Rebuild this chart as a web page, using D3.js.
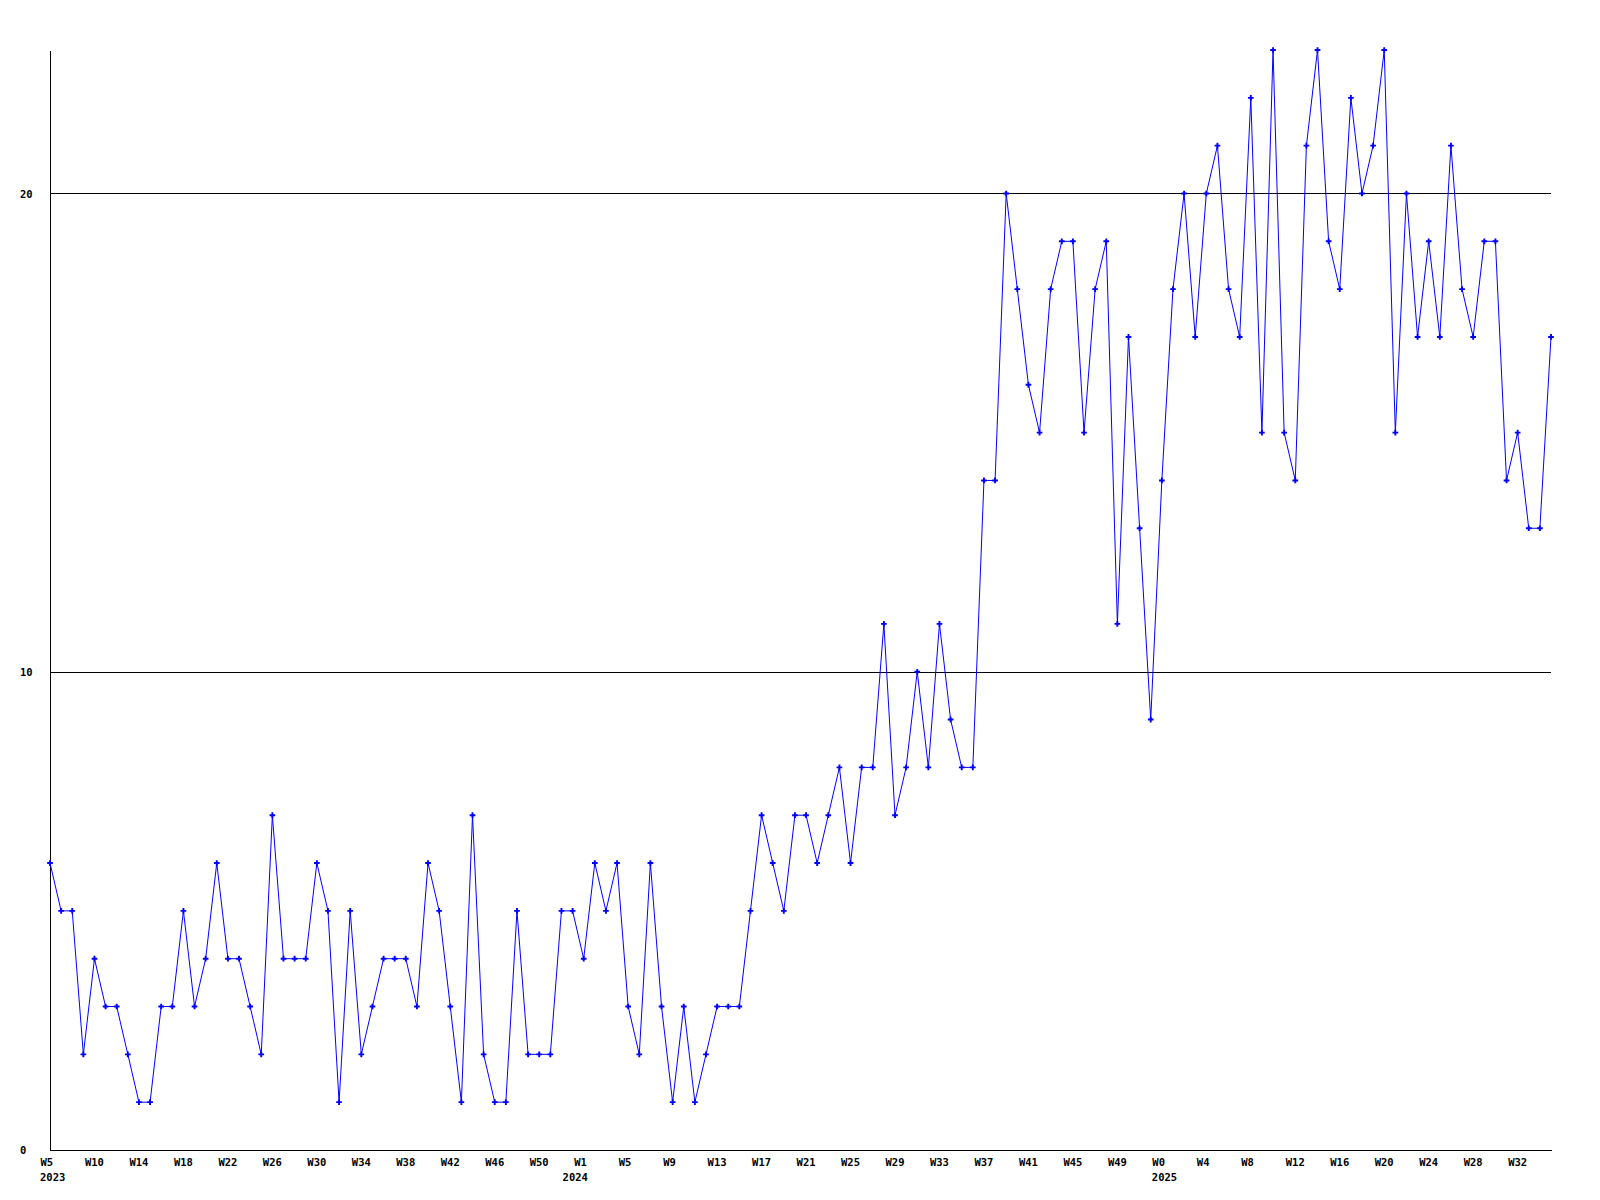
<!DOCTYPE html>
<html>
<head>
<meta charset="utf-8">
<script src="https://cdn.jsdelivr.net/npm/d3@7"></script>
<style>
  html, body { margin: 0; padding: 0; background: #ffffff; }
  svg { display: block; }
  text { font-family: "DejaVu Sans Mono", "Liberation Mono", monospace; font-weight: bold; font-size: 10.5px; fill: #000; }
</style>
</head>
<body>
<svg id="chart" width="1600" height="1200"></svg>
<script>
// Weekly values, one per week, 2023 W5 .. 2025 W35
const values = [
  6, 5, 5, 2, 4, 3, 3, 2, 1, 1,
  3, 3, 5, 3, 4, 6, 4, 4, 3, 2,
  7, 4, 4, 4, 6, 5, 1, 5, 2, 3,
  4, 4, 4, 3, 6, 5, 3, 1, 7, 2,
  1, 1, 5, 2, 2, 2, 5, 5, 4, 6,
  5, 6, 3, 2, 6, 3, 1, 3, 1, 2,
  3, 3, 3, 5, 7, 6, 5, 7, 7, 6,
  7, 8, 6, 8, 8, 11, 7, 8, 10, 8,
  11, 9, 8, 8, 14, 14, 20, 18, 16, 15,
  18, 19, 19, 15, 18, 19, 11, 17, 13, 9,
  14, 18, 20, 17, 20, 21, 18, 17, 22, 15,
  23, 15, 14, 21, 23, 19, 18, 22, 20, 21,
  23, 15, 20, 17, 19, 17, 21, 18, 17, 19,
  19, 14, 15, 13, 13, 17
];

// Week tick labels (point index -> label)
const weekTickIndex = [0, 4, 8, 12, 16, 20, 24, 28, 32, 36, 40, 44,
  48, 52, 56, 60, 64, 68, 72, 76, 80, 84, 88, 92, 96,
  100, 104, 108, 112, 116, 120, 124, 128, 132];
const weekTickLabels = ["W5", "W10", "W14", "W18", "W22", "W26", "W30", "W34", "W38", "W42", "W46", "W50",
  "W1", "W5", "W9", "W13", "W17", "W21", "W25", "W29", "W33", "W37", "W41", "W45", "W49",
  "W0", "W4", "W8", "W12", "W16", "W20", "W24", "W28", "W32"];

// Year labels (point index -> label)
const yearIndex = [0, 47, 100];
const yearLabels = ["2023", "2024", "2025"];

// Y ticks / gridlines
const yTickValues = [0, 10, 20];
const yGridValues = [10, 20];
const yMax = 23;

const svg = d3.select("#chart");
const mLeft = 50, mRight = 1551, mTop = 50, mBottom = 1150;

const x = d3.scaleLinear().domain([0, values.length - 1]).range([mLeft, mRight]);
const y = d3.scaleLinear().domain([0, yMax]).range([mBottom, mTop]);

// Gridlines
svg.append("g")
  .selectAll("line")
  .data(yGridValues)
  .join("line")
  .attr("x1", mLeft).attr("x2", mRight)
  .attr("y1", d => Math.round(y(d)) + 0.5).attr("y2", d => Math.round(y(d)) + 0.5)
  .attr("stroke", "#000").attr("stroke-width", 1)
  .attr("shape-rendering", "crispEdges");

// Y axis
const yAxis = svg.append("g")
  .attr("transform", `translate(${mLeft},0)`)
  .call(d3.axisLeft(y).tickValues(yTickValues).tickSize(0).tickSizeOuter(0).tickFormat(d3.format("d")));
yAxis.select(".domain").attr("stroke", "#000").attr("shape-rendering", "crispEdges");
yAxis.selectAll("text")
  .attr("text-anchor", "start")
  .attr("x", 20 - mLeft)
  .attr("dy", "0.35em")
  .style("font-family", '"DejaVu Sans Mono", monospace')
  .style("font-weight", "bold")
  .style("font-size", "10.5px");

// X axis
const xAxis = svg.append("g")
  .attr("transform", `translate(0,${mBottom})`)
  .call(d3.axisBottom(x)
    .tickValues(weekTickIndex)
    .tickFormat((d, i) => weekTickLabels[i])
    .tickSize(0).tickSizeOuter(0).tickPadding(9));
xAxis.select(".domain").attr("stroke", "#000").attr("shape-rendering", "crispEdges");
xAxis.selectAll("text")
  .attr("text-anchor", "start")
  .attr("x", -10)
  .style("font-family", '"DejaVu Sans Mono", monospace')
  .style("font-weight", "bold")
  .style("font-size", "10.5px");

// Year labels
svg.append("g")
  .selectAll("text")
  .data(yearIndex)
  .join("text")
  .attr("x", d => x(d) - 10)
  .attr("y", mBottom + 31)
  .attr("text-anchor", "start")
  .text((d, i) => yearLabels[i]);

// Data line
const line = d3.line()
  .x((d, i) => x(i))
  .y(d => y(d));

svg.append("path")
  .datum(values)
  .attr("d", line)
  .attr("fill", "none")
  .attr("stroke", "#0000ff")
  .attr("stroke-width", 1);

// Markers
const sym = d3.symbol().type(d3.symbolCross).size(18);
svg.append("g")
  .selectAll("path")
  .data(values)
  .join("path")
  .attr("transform", (d, i) => `translate(${x(i)},${y(d)})`)
  .attr("d", sym)
  .attr("fill", "#0000ff");
</script>
</body>
</html>
